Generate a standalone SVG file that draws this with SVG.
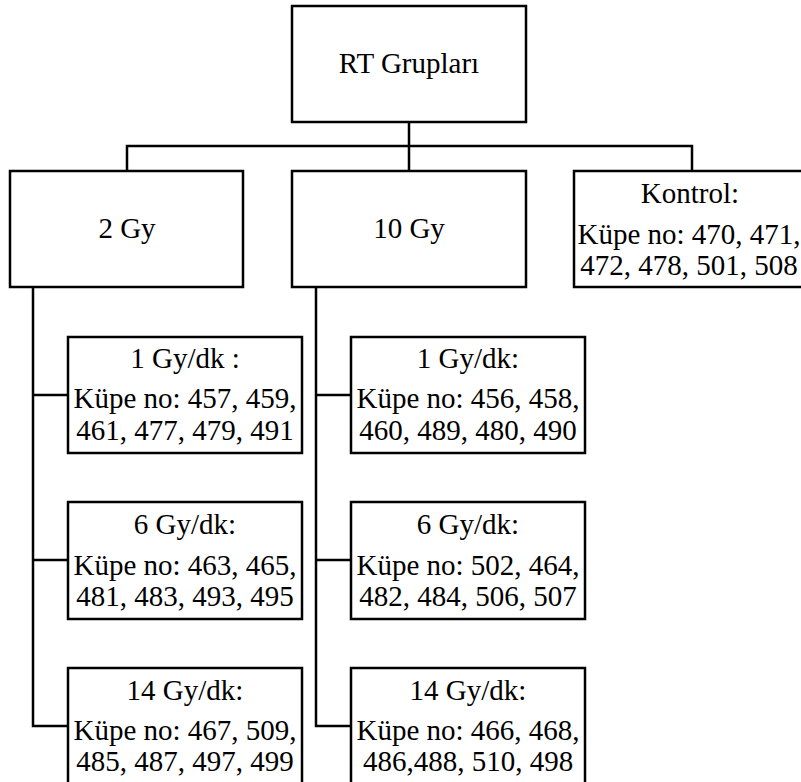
<svg xmlns="http://www.w3.org/2000/svg" width="801" height="782" viewBox="0 0 801 782">
<style>
.box{fill:#fff;stroke:#000;stroke-width:2.5}
.ln{fill:none;stroke:#000;stroke-width:2.5}
.t{font-size:29px;fill:#000;text-anchor:middle}
</style>
<rect width="801" height="782" fill="#fff"/>
<g id="connectors">
<path class="ln" d="M409,122 V171 M127,171 V146 H692 V171"/>
<path class="ln" d="M33,287 V726 H68 M33,395 H68 M33,560 H68"/>
<path class="ln" d="M316,287 V726 H351 M316,395 H351 M316,560 H351"/>
</g>
<g class="t" font-family="Liberation Serif, Times New Roman, serif">
<g id="root"><rect class="box" x="292" y="6" width="234" height="116"/><text x="409" y="73">RT Grupları</text></g>
<g id="g2"><rect class="box" x="10" y="171" width="233" height="116"/><text x="127" y="238">2 Gy</text></g>
<g id="g10"><rect class="box" x="292" y="171" width="234" height="116"/><text x="409" y="238">10 Gy</text></g>
<g id="kontrol"><rect class="box" x="574" y="171" width="240" height="116"/><text x="690" y="203">Kontrol:</text><text x="689" y="244">Küpe no: 470, 471,</text><text x="689" y="275">472, 478, 501, 508</text></g>
<g id="a1"><rect class="box" x="68" y="337" width="234" height="116"/><text x="185" y="368">1 Gy/dk :</text><text x="185" y="408">Küpe no: 457, 459,</text><text x="185" y="440">461, 477, 479, 491</text></g>
<g id="a6"><rect class="box" x="68" y="502" width="234" height="117"/><text x="185" y="534">6 Gy/dk:</text><text x="185" y="575">Küpe no: 463, 465,</text><text x="185" y="606">481, 483, 493, 495</text></g>
<g id="a14"><rect class="box" x="68" y="668" width="234" height="117"/><text x="185" y="700">14 Gy/dk:</text><text x="185" y="740">Küpe no: 467, 509,</text><text x="185" y="771">485, 487, 497, 499</text></g>
<g id="b1"><rect class="box" x="351" y="337" width="234" height="116"/><text x="468" y="368">1 Gy/dk:</text><text x="468" y="408">Küpe no: 456, 458,</text><text x="468" y="440">460, 489, 480, 490</text></g>
<g id="b6"><rect class="box" x="351" y="502" width="234" height="117"/><text x="468" y="534">6 Gy/dk:</text><text x="468" y="575">Küpe no: 502, 464,</text><text x="468" y="606">482, 484, 506, 507</text></g>
<g id="b14"><rect class="box" x="351" y="668" width="234" height="117"/><text x="468" y="700">14 Gy/dk:</text><text x="468" y="740">Küpe no: 466, 468,</text><text x="468" y="771">486,488, 510, 498</text></g>
</g>
</svg>
